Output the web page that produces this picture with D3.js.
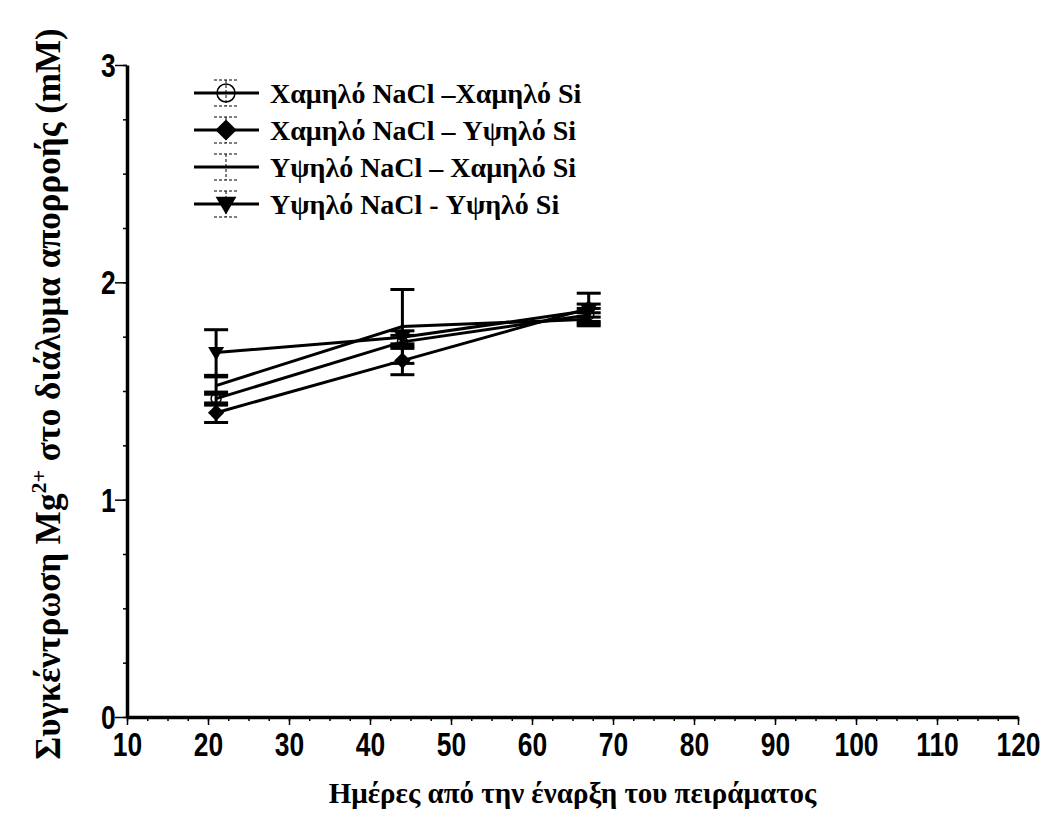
<!DOCTYPE html>
<html>
<head>
<meta charset="utf-8">
<script src="https://cdn.jsdelivr.net/npm/d3@7"></script>
<style>
  body { margin: 0; background: #fff; }
</style>
</head>
<body>
<script>
// days of sampling
const days = [21, 44, 67];

// series names (legend)
const seriesNames = [
    "Χαμηλό NaCl –Χαμηλό Si",
    "Χαμηλό NaCl – Υψηλό Si",
    "Υψηλό NaCl – Χαμηλό Si",
    "Υψηλό NaCl - Υψηλό Si"
];
const seriesMarkers = ["circle", "diamond", "none", "triangle"];

// Mg2+ concentration (mM), one array per series
const lowLow = [1.465, 1.726, 1.85];
const lowHigh = [1.40, 1.64, 1.88];
const highLow = [1.525, 1.797, 1.83];
const highHigh = [1.677, 1.747, 1.87];

// standard errors
const lowLowErr = [0.03, 0.03, 0.03];
const lowHighErr = [0.045, 0.065, 0.07];
const highLowErr = [0.04, 0.17, 0.03];
const highHighErr = [0.105, 0.03, 0.03];

const xTicks = [10, 20, 30, 40, 50, 60, 70, 80, 90, 100, 110, 120];
const yTicks = [0, 1, 2, 3];

const series = [
    { name: seriesNames[0], marker: seriesMarkers[0], values: lowLow, err: lowLowErr },
    { name: seriesNames[1], marker: seriesMarkers[1], values: lowHigh, err: lowHighErr },
    { name: seriesNames[2], marker: seriesMarkers[2], values: highLow, err: highLowErr },
    { name: seriesNames[3], marker: seriesMarkers[3], values: highHigh, err: highHighErr }
];

const width = 1044, height = 816;
const margin = { top: 65, right: 26, bottom: 99, left: 127 };

const svg = d3.select("body").append("svg")
    .attr("width", width)
    .attr("height", height);

const x = d3.scaleLinear().domain([10, 120]).range([margin.left, width - margin.right]);
const y = d3.scaleLinear().domain([0, 3]).range([height - margin.bottom, margin.top]);

// minor ticks
svg.append("g")
    .attr("transform", "translate(0," + y(0) + ")")
    .call(d3.axisBottom(x).tickValues(d3.range(10, 120.01, 2.5)).tickSize(4).tickFormat(""))
    .call(g => g.select(".domain").remove())
    .selectAll("line").attr("stroke-width", 1.5);
svg.append("g")
    .attr("transform", "translate(" + x(10) + ",0)")
    .call(d3.axisLeft(y).tickValues(d3.range(0, 3.01, 0.25)).tickSize(4).tickFormat(""))
    .call(g => g.select(".domain").remove())
    .selectAll("line").attr("stroke-width", 1.5);

// main axes
const xAxis = svg.append("g")
    .attr("transform", "translate(0," + y(0) + ")")
    .call(d3.axisBottom(x).tickValues(xTicks).tickSize(8).tickSizeOuter(0).tickPadding(8).tickFormat(d3.format("d")));
const yAxis = svg.append("g")
    .attr("transform", "translate(" + x(10) + ",0)")
    .call(d3.axisLeft(y).tickValues(yTicks).tickSize(12).tickSizeOuter(0).tickPadding(4).tickFormat(d3.format("d")));

[xAxis, yAxis].forEach(a => {
    a.select(".domain").attr("stroke-width", 3.5);
    a.selectAll(".tick line").attr("stroke-width", 1.5);
    a.selectAll("text")
        .attr("font-family", "'Liberation Sans', Arial, sans-serif")
        .attr("font-weight", "bold")
        .attr("font-size", 33)
        .attr("fill", "#000");
});
// condensed look of the tick digits
xAxis.selectAll("text").attr("transform", "scale(0.8,1)");
yAxis.selectAll("text").attr("dy", "0.35em").attr("x", -14).attr("transform", "scale(0.8,1)");

// axis titles
svg.append("text")
    .attr("x", (x(10) + x(120)) / 2)
    .attr("y", 803)
    .attr("text-anchor", "middle")
    .attr("font-family", "'Liberation Serif', 'Times New Roman', serif")
    .attr("font-weight", "bold")
    .attr("font-size", 29)
    .text("Ημέρες από την έναρξη του πειράματος");

const yt = svg.append("text")
    .attr("transform", "translate(60," + 394 + ") rotate(-90)")
    .attr("text-anchor", "middle")
    .attr("font-family", "'Liberation Serif', 'Times New Roman', serif")
    .attr("font-weight", "bold")
    .attr("font-size", 35);
yt.append("tspan").text("Συγκέντρωση Mg");
yt.append("tspan").attr("dy", -14).attr("font-size", 22).text("2+");
yt.append("tspan").attr("dy", 14).text(" στο διάλυμα απορροής (mM)");

// markers
function drawMarker(g, type, cx, cy, big) {
    const s = big ? 1.3 : 1;
    if (type === "circle") {
        g.append("circle").attr("cx", cx).attr("cy", cy).attr("r", (big ? 9 : 5))
            .attr("fill", "none").attr("stroke", "#000").attr("stroke-width", 1.5);
    } else if (type === "diamond") {
        g.append("path")
            .attr("d", d3.symbol().type(d3.symbolDiamond2).size(170 * s * s)())
            .attr("transform", "translate(" + cx + "," + cy + ")")
            .attr("fill", "#000");
    } else if (type === "triangle") {
        const r = 8 * s;
        g.append("path")
            .attr("d", "M" + (cx - r) + "," + (cy - r * 0.7) + "L" + (cx + r) + "," + (cy - r * 0.7) + "L" + cx + "," + (cy + r) + "Z")
            .attr("fill", "#000");
    }
}

const line = d3.line().x((d, i) => x(days[i])).y(d => y(d));
const plot = svg.append("g");

series.forEach(s => {
    plot.append("path")
        .datum(s.values)
        .attr("d", line)
        .attr("fill", "none")
        .attr("stroke", "#000")
        .attr("stroke-width", 3);
});

series.forEach(s => {
    const g = plot.append("g");
    s.values.forEach((v, i) => {
        const cx = x(days[i]);
        const lo = y(v - s.err[i]), hi = y(v + s.err[i]);
        g.append("line").attr("x1", cx).attr("x2", cx).attr("y1", lo).attr("y2", hi)
            .attr("stroke", "#000").attr("stroke-width", 3);
        [lo, hi].forEach(yy => {
            g.append("line").attr("x1", cx - 12).attr("x2", cx + 12).attr("y1", yy).attr("y2", yy)
                .attr("stroke", "#000").attr("stroke-width", 3);
        });
        drawMarker(g, s.marker, cx, y(v), false);
    });
});

// legend
const legend = svg.append("g");
const legendRows = [93, 130, 167, 204];
series.forEach((s, i) => {
    const ly = legendRows[i];
    const cx = 226;
    legend.append("line").attr("x1", 194).attr("x2", 259).attr("y1", ly).attr("y2", ly)
        .attr("stroke", "#000").attr("stroke-width", 3);
    legend.append("line").attr("x1", cx).attr("x2", cx).attr("y1", ly - 13).attr("y2", ly + 13)
        .attr("stroke", "#000").attr("stroke-width", 1).attr("stroke-dasharray", "3,2");
    [ly - 13, ly + 13].forEach(yy => {
        legend.append("line").attr("x1", cx - 12).attr("x2", cx + 12).attr("y1", yy).attr("y2", yy)
            .attr("stroke", "#000").attr("stroke-width", 1).attr("stroke-dasharray", "3,2");
    });
    drawMarker(legend, s.marker, cx, ly, true);
    legend.append("text")
        .attr("x", 270)
        .attr("y", ly)
        .attr("dy", "0.35em")
        .attr("font-family", "'Liberation Serif', 'Times New Roman', serif")
        .attr("font-weight", "bold")
        .attr("font-size", 28)
        .text(s.name);
});
</script>
</body>
</html>
